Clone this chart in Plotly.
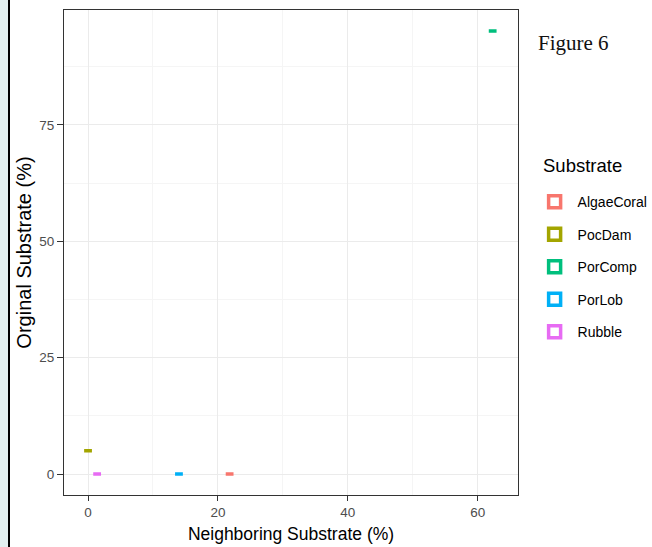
import plotly.graph_objects as go

# Substrate summary: neighboring vs original substrate cover (%)
substrates = ["AlgaeCoral", "PocDam", "PorComp", "PorLob", "Rubble"]
neighboring_pct = [21.8, 0.0, 62.3, 14.0, 1.4]
original_pct = [0.0, 5.0, 95.2, 0.0, 0.0]
colors = ["#F8766D", "#A3A500", "#00BF7D", "#00B0F6", "#E76BF3"]

x_ticks = [0, 20, 40, 60]
y_ticks = [0, 25, 50, 75]

fig = go.Figure()
for name, xv, yv, col in zip(substrates, neighboring_pct, original_pct, colors):
    fig.add_trace(go.Box(
        x=[xv], y=[yv], name=name, legendgroup=name,
        width=1.2, boxpoints=False,
        line=dict(color=col, width=3.5),
        fillcolor="rgba(255,255,255,0)",
        whiskerwidth=0,
    ))

grid_major = "#EBEBEB"
grid_minor = "#F5F5F5"

fig.update_layout(
    width=652, height=547,
    margin=dict(l=64, r=134, t=10, b=52, autoexpand=False),
    paper_bgcolor="white", plot_bgcolor="white",
    boxmode="overlay",
    font=dict(family="Liberation Sans, Arial, sans-serif", color="#000000"),
    legend=dict(
        x=1.03, xanchor="left", y=0.637, yanchor="top",
        font=dict(size=14, color="#000000"),
        tracegroupgap=11.3, itemwidth=36,
    ),
    xaxis=dict(
        range=[-3.7, 66.2], tickvals=x_ticks, ticktext=[str(v) for v in x_ticks],
        showgrid=True, gridcolor=grid_major, gridwidth=1,
        minor=dict(tickvals=[10, 30, 50], showgrid=True, gridcolor=grid_minor, gridwidth=1),
        ticks="outside", ticklen=5, tickcolor="#333333", tickwidth=1,
        tickfont=dict(size=13.5, color="#4D4D4D"),
        title=dict(text="Neighboring Substrate (%)", font=dict(size=17.5, color="#000000"), standoff=8),
        showline=True, linecolor="#333333", linewidth=1, mirror=True,
        zeroline=False,
    ),
    yaxis=dict(
        range=[-4.5, 99.7], tickvals=y_ticks, ticktext=[str(v) for v in y_ticks],
        showgrid=True, gridcolor=grid_major, gridwidth=1,
        minor=dict(tickvals=[12.5, 37.5, 62.5, 87.5], showgrid=True, gridcolor=grid_minor, gridwidth=1),
        ticks="outside", ticklen=6, tickcolor="#333333", tickwidth=1,
        tickfont=dict(size=13.5, color="#4D4D4D"),
        title=dict(text="Orginal Substrate (%)", font=dict(size=20, color="#000000"), standoff=2),
        showline=True, linecolor="#333333", linewidth=1, mirror=True,
        zeroline=False,
    ),
    annotations=[
        dict(text="Figure 6", xref="paper", yref="paper", x=1.04, y=0.932,
             xanchor="left", yanchor="middle", showarrow=False,
             font=dict(family="Liberation Serif, DejaVu Serif, serif", size=21, color="#111111")),
        dict(text="Substrate", xref="paper", yref="paper", x=1.05, y=1 - (166 - 10) / 485,
             xanchor="left", yanchor="middle", showarrow=False,
             font=dict(size=18.5, color="#000000")),
    ],
    shapes=[
        dict(type="rect", xref="paper", yref="paper",
             x0=-64 / 454, x1=-56 / 454, y0=-52 / 485, y1=1 + 10 / 485,
             fillcolor="#E2F0F0", line=dict(width=0), layer="below"),
        dict(type="line", xref="paper", yref="paper",
             x0=-55 / 454, x1=-55 / 454, y0=-52 / 485, y1=1 + 10 / 485,
             line=dict(color="#000000", width=2)),
    ],
)

fig.write_html("out.html")
